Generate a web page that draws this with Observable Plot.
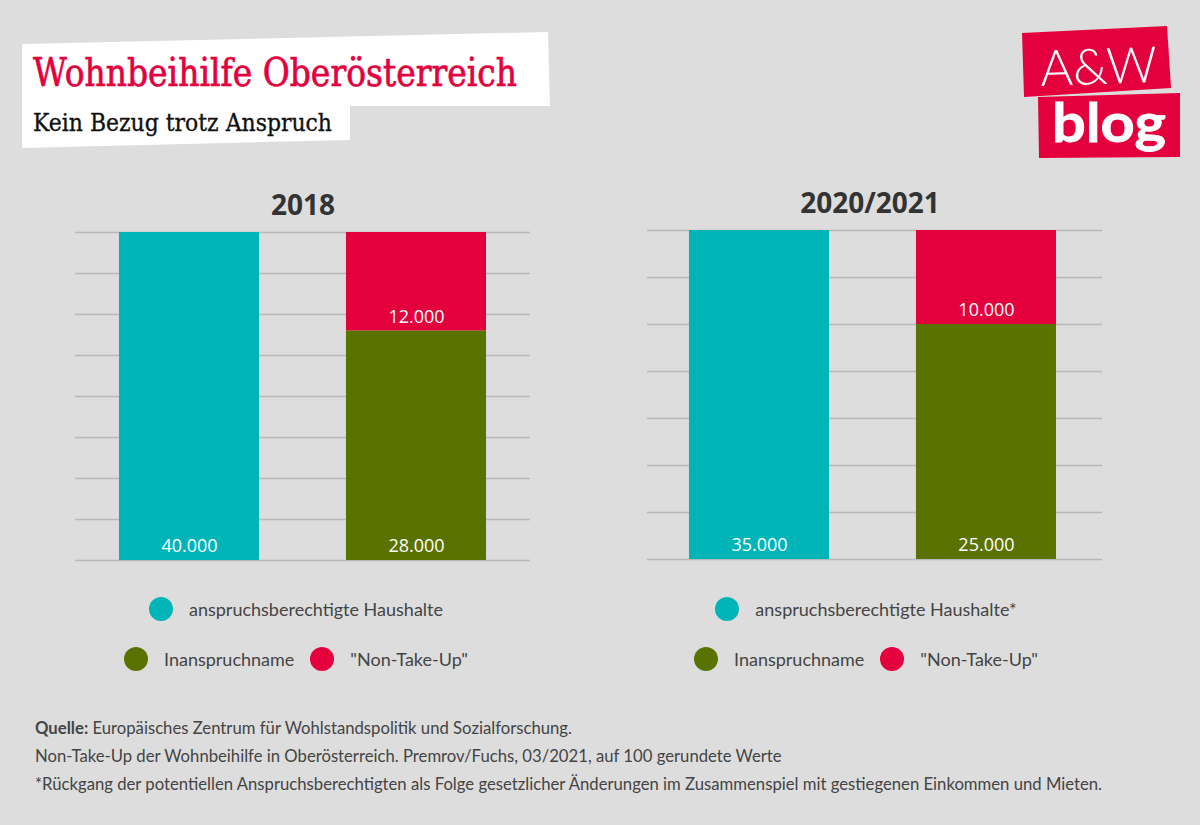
<!DOCTYPE html>
<html><head><meta charset="utf-8">
<script src="https://cdn.jsdelivr.net/npm/d3@7"></script>
<script src="https://cdn.jsdelivr.net/npm/@observablehq/plot@0.6"></script>
<style>
html,body{margin:0;padding:0;}
body{width:1200px;height:825px;background:#dddddd;position:relative;overflow:hidden;font-family:Lato,"Open Sans",sans-serif;}
#deco{position:absolute;left:0;top:0;}
.panel{position:absolute;top:180px;}
.legend{position:absolute;font-family:Lato,sans-serif;font-size:18px;color:#444;}
.lrow{position:absolute;left:0;right:0;display:flex;justify-content:center;align-items:center;height:26px;}
.litem{display:flex;align-items:center;margin:0 8px;}
.dot{width:24px;height:24px;border-radius:50%;margin-right:16px;}
.foot{position:absolute;left:35px;font-family:Lato,sans-serif;font-size:16.7px;color:#444;white-space:nowrap;}
</style></head><body>
<svg id="deco" width="1200" height="200">
  <polygon points="22,44 548,32 550,106 350,106 350,140 22,148" fill="#ffffff"/>
  <text x="33" y="86" font-family="DejaVu Serif" font-size="39" fill="#e4003c" stroke="#e4003c" stroke-width="0.7" textLength="484" lengthAdjust="spacingAndGlyphs">Wohnbeihilfe Oberösterreich</text>
  <text x="33" y="131" font-family="DejaVu Serif" font-size="25" fill="#111" stroke="#111" stroke-width="0.35" textLength="299" lengthAdjust="spacingAndGlyphs">Kein Bezug trotz Anspruch</text>
  <polygon points="1022,33 1167,26 1171,88 1024,97" fill="#e4003c"/>
  <polygon points="1038,97 1180,93 1180,157 1039,158" fill="#e4003c"/>
  <text x="1040" y="84" font-family="Lato" font-weight="300" font-size="50" fill="#fff" textLength="117" lengthAdjust="spacingAndGlyphs" transform="rotate(-2 1100 65)">A&amp;W</text>
  <text x="1052" y="142" font-family="Lato" font-weight="bold" font-size="54" fill="#fff" stroke="#fff" stroke-width="0.8" textLength="114" lengthAdjust="spacingAndGlyphs">blog</text>
</svg>
<div id="p0" class="panel" style="left:0px"></div>
<div id="p1" class="panel" style="left:572px"></div>
<div id="lg0" class="legend" style="left:0px;width:592px;top:596px;height:80px"></div>
<div id="lg1" class="legend" style="left:572px;width:588px;top:596px;height:80px"></div>
<div id="footer"></div>
<script>
// ---- data ----
const panels = ["2018", "2020/2021"];
const bars = ["berechtigt", "bezogen"];
const series = ["anspruchsberechtigte Haushalte", "Inanspruchname", "\"Non-Take-Up\""];
const eligible = [40000, 35000];
const takeUp = [28000, 25000];
const nonTakeUp = [12000, 10000];
const legendFirst = ["anspruchsberechtigte Haushalte", "anspruchsberechtigte Haushalte*"];
const colors = ["#00b5b8", "#5a7300", "#e4003c"];
const gridStep = 5000;
const sourceLabel = "Quelle:";
const footLines = [
  " Europäisches Zentrum für Wohlstandspolitik und Sozialforschung.",
  "Non-Take-Up der Wohnbeihilfe in Oberösterreich. Premrov/Fuchs, 03/2021, auf 100 gerundete Werte",
  "*Rückgang der potentiellen Anspruchsberechtigten als Folge gesetzlicher Änderungen im Zusammenspiel mit gestiegenen Einkommen und Mieten."
];

const fmt = d3.formatLocale({decimal: ",", thousands: ".", grouping: [3], currency: ["", "€"]}).format(",d");

const layout = [
  {marginLeft: 75, marginRight: 30, marginTop: 52, marginBottom: 20},
  {marginLeft: 75, marginRight: 30, marginTop: 50, marginBottom: 21}
];
const bandAlign = [0.5, 0.477];
const titleShift = [0, -5];

panels.forEach((name, i) => {
  const rows = [
    {bar: bars[0], series: series[0], value: eligible[i]},
    {bar: bars[1], series: series[1], value: takeUp[i]},
    {bar: bars[1], series: series[2], value: nonTakeUp[i]}
  ];
  const chart = Plot.plot({
    width: 560, height: 400,
    ...layout[i],
    style: {background: "transparent", overflow: "visible"},
    x: {domain: bars, paddingInner: 0.383, paddingOuter: 0.1938, align: bandAlign[i], round: false, axis: null},
    y: {domain: [0, eligible[i]], axis: null},
    color: {domain: series, range: colors},
    marks: [
      Plot.ruleY(d3.range(0, eligible[i] + 1, gridStep), {stroke: "#b9b9b9", strokeWidth: 1.5}),
      Plot.barY(rows, Plot.stackY({x: "bar", y: "value", fill: "series"})),
      Plot.text(rows, Plot.stackY1({x: "bar", y: "value", text: d => fmt(d.value), dy: -14, fill: "white", fontSize: 18, fontFamily: "Open Sans"})),
      Plot.text([name], {frameAnchor: "top", lineAnchor: "middle", dy: -26, dx: titleShift[i], fontSize: 28, fontWeight: "bold", fill: "#333", fontFamily: "Open Sans"})
    ]
  });
  document.getElementById("p" + i).appendChild(chart);

  // legend
  const lg = document.getElementById("lg" + i);
  const labels = [legendFirst[i], series[1], series[2]];
  const rowsDef = [[0], [1, 2]];
  rowsDef.forEach((r, ri) => {
    const row = document.createElement("div");
    row.className = "lrow";
    row.style.top = (ri * 50) + "px";
    r.forEach(k => {
      const it = document.createElement("div");
      it.className = "litem";
      const dot = document.createElement("div");
      dot.className = "dot";
      dot.style.background = colors[k];
      const tx = document.createElement("span");
      tx.textContent = labels[k];
      it.appendChild(dot); it.appendChild(tx);
      row.appendChild(it);
    });
    lg.appendChild(row);
  });
});

// footer
const footer = document.getElementById("footer");
const ys = [718, 746, 774];
footLines.forEach((t, i) => {
  const d = document.createElement("div");
  d.className = "foot";
  d.style.top = ys[i] + "px";
  if (i === 0) {
    const b = document.createElement("b");
    b.textContent = sourceLabel;
    d.appendChild(b);
  }
  d.appendChild(document.createTextNode(t));
  footer.appendChild(d);
});
</script>
</body></html>
